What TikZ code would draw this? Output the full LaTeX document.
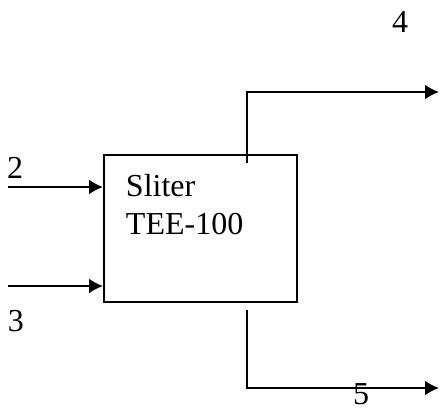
\documentclass[tikz,border=0pt]{standalone}
\usepackage{fontspec}
\setmainfont{Liberation Serif}
\usetikzlibrary{arrows.meta}

\begin{document}
\begin{tikzpicture}[x=0.5pt,y=-0.5pt,
    line width=1pt,
    flow/.style={-{Latex[length=7pt,width=7.5pt]}},
    unit/.style={draw,minimum width=96.5pt,minimum height=73.5pt,inner sep=0pt},
    stream/.style={font=\fontsize{16}{18}\selectfont,inner sep=0pt}]
  \useasboundingbox (0,0) rectangle (440,409);
  % splitter block
  \node[unit] (tee) at (200.5,228.5) {};
  \node[anchor=north west,align=left,inner sep=0pt,
        font=\fontsize{16}{19}\selectfont] (name) at (125,173) {Sliter\\TEE-100};
  % feeds
  \coordinate (f2) at (8,187);
  \coordinate (f3) at (8,286);
  \draw[flow] (f2) -- (tee.west |- f2);
  \draw[flow] (f3) -- (tee.west |- f3);
  % products
  \coordinate (p4a) at (247,163);
  \coordinate (p4b) at (247,92);
  \coordinate (p4) at (439,92);
  \coordinate (p5a) at (247,310);
  \coordinate (p5b) at (247,388);
  \coordinate (p5) at (439,388);
  \draw[flow] (p4a) -- (p4b) -- (p4);
  \draw[flow] (p5a) -- (p5b) -- (p5);
  % stream numbers
  \node[stream] (s2) at (15,168) {2};
  \node[stream] (s3) at (16,321) {3};
  \node[stream] (s4) at (400,22) {4};
  \node[stream] (s5) at (361,394) {5};
\end{tikzpicture}
\end{document}
